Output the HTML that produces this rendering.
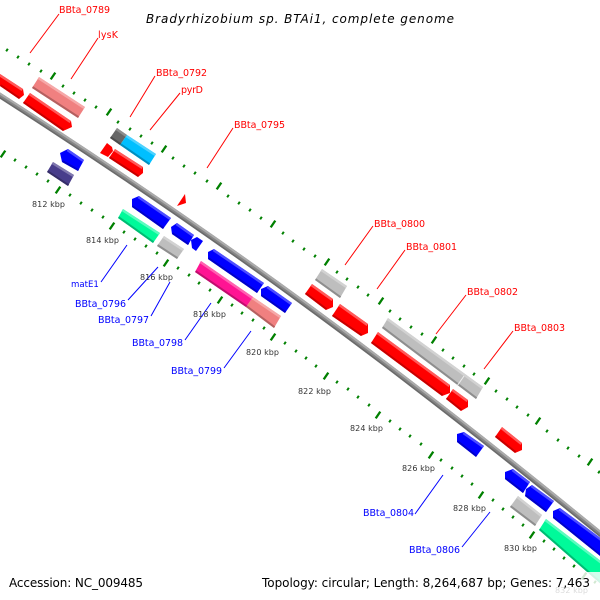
<!DOCTYPE html>
<html><head><meta charset="utf-8"><style>
html,body{margin:0;padding:0;background:#fff}
svg{display:block}
text{font-family:"DejaVu Sans","Liberation Sans",sans-serif}
.r{fill:#f00;font-size:9.5px}
.b{fill:#00f;font-size:9.5px}
.k{fill:#333;font-size:8px}
.m{fill:#000;font-size:12px}
</style></head><body>
<svg width="600" height="600" viewBox="0 0 600 600" xmlns="http://www.w3.org/2000/svg">
<rect width="600" height="600" fill="#fff"/>
<!-- backbone -->
<g fill="none">
<path d="M-15,86 C90,153 195,223.8 300,300.5 C405,377.2 510,459.9 615,546" stroke="#858585" stroke-width="5.5"/>
<path transform="translate(.95,-1.35)" d="M-15,86 C90,153 195,223.8 300,300.5 C405,377.2 510,459.9 615,546" stroke="#ababab" stroke-width="2"/>
<path transform="translate(-1.1,1.5)" d="M-15,86 C90,153 195,223.8 300,300.5 C405,377.2 510,459.9 615,546" stroke="#6a6a6a" stroke-width="1.4"/>
</g>
<!-- ticks -->
<path fill="none" stroke="#008000" stroke-width="2" stroke-linecap="square" d="M-4.3,43.5l.6-.9M6.7,50.5l.6-.9M17.7,57.5l.6-.9M28.7,64.5l.6-.9M40.7,71.5l.6-.9M62.7,86.5l.6-.9M73.7,93.5l.6-.9M84.7,100.5l.6-.9M95.7,107.5l.6-.9M117.7,122.5l.6-.9M129.7,129.5l.6-.9M140.7,136.5l.6-.9M151.7,143.5l.6-.9M172.7,158.5l.6-.9M183.7,166.5l.6-.9M194.7,173.5l.6-.9M206.7,181.5l.6-.9M227.7,196.5l.6-.9M238.7,203.5l.6-.9M249.7,210.5l.6-.9M260.7,218.5l.6-.9M282.7,233.5l.6-.9M292.7,241.5l.6-.9M303.7,249.5l.6-.9M314.7,256.5l.6-.9M336.7,272.5l.6-.9M346.7,279.5l.6-.9M357.7,287.5l.6-.9M367.7,295.5l.6-.9M389.7,311.5l.6-.9M399.7,319.5l.6-.9M410.7,327.5l.6-.9M421.7,334.5l.6-.9M442.7,350.5l.6-.9M452.7,358.5l.6-.9M463.7,366.5l.6-.9M473.7,374.5l.6-.9M495.7,391.5l.6-.9M506.7,399.5l.6-.9M516.7,407.5l.6-.9M527.7,415.5l.6-.9M546.7,431.5l.6-.9M557.7,440.5l.6-.9M567.7,448.5l.6-.9M578.7,456.5l.6-.9M598.7,472.5l.6-.9
M14.7,160.5l.6-.9M25.7,167.5l.6-.9M36.7,174.5l.6-.9M47.7,181.5l.6-.9M69.7,195.5l.6-.9M80.7,203.5l.6-.9M91.7,210.5l.6-.9M102.7,217.5l.6-.9M123.7,232.5l.6-.9M134.7,239.5l.6-.9M145.7,246.5l.6-.9M156.7,253.5l.6-.9M177.7,268.5l.6-.9M188.7,275.5l.6-.9M198.7,283.5l.6-.9M209.7,290.5l.6-.9M231.7,305.5l.6-.9M241.7,313.5l.6-.9M252.7,320.5l.6-.9M263.7,328.5l.6-.9M284.7,343.5l.6-.9M295.7,351.5l.6-.9M305.7,358.5l.6-.9M315.7,366.5l.6-.9M336.7,382.5l.6-.9M347.7,389.5l.6-.9M357.7,397.5l.6-.9M368.7,405.5l.6-.9M389.7,421.5l.6-.9M399.7,429.5l.6-.9M409.7,436.5l.6-.9M420.7,444.5l.6-.9M440.7,460.5l.6-.9M451.7,468.5l.6-.9M461.7,476.5l.6-.9M471.7,484.5l.6-.9M492.7,500.5l.6-.9M502.7,509.5l.6-.9M512.7,517.5l.6-.9M522.7,525.5l.6-.9M543.7,541.5l.6-.9M553.7,549.5l.6-.9M563.7,558.5l.6-.9M573.7,566.5l.6-.9M594.7,582.5l.6-.9"/>
<path fill="none" stroke="#008000" stroke-width="2.3" d="M50.7,79.4l4.6-6.8M106.7,115.4l4.6-6.8M161.7,152.4l4.6-6.8M216.7,189.4l4.6-6.8M270.7,227.4l4.6-6.8M324.7,265.4l4.6-6.8M378.7,304.4l4.6-6.8M431.7,343.4l4.6-6.8M484.7,384.4l4.6-6.8M535.7,424.4l4.6-6.8M587.7,465.4l4.6-6.8
M.7,157.4l4.6-6.8M55.7,193.4l4.6-6.8M109.7,229.4l4.6-6.8M163.7,266.4l4.6-6.8M217.7,303.4l4.6-6.8M270.7,340.4l4.6-6.8M323.7,379.4l4.6-6.8M375.7,418.4l4.6-6.8M428.7,458.4l4.6-6.8M478.7,498.4l4.6-6.8M529.7,538.4l4.6-6.8M581.7,579.4l4.6-6.8"/>
<!-- genes: bodies -->
<g fill="#f00">
<polygon points="0,74 23,89 24,95 19,99 0,86"/>
<polygon points="30,93 71,121 72,127 63,131 23,103"/>
<polygon points="107,143 112,147 113,151 108,157 100,153"/>
<polygon points="115,149 143,167 143,173 138,177 109,158"/>
<polygon points="185,194 186,203 177,206"/>
<polygon points="312,284 333,299 333,307 326,310 305,294"/>
<polygon points="340,304 368,324 368,333 361,336 332,316"/>
<polygon points="378,332 450,385 450,393 442,396 371,343"/>
<polygon points="453,389 468,400 468,407 461,411 446,399"/>
<polygon points="502,427 522,443 522,450 515,453 495,437"/>
</g>
<g fill="#00f">
<polygon points="60,153 68,149 84,160 78,171 62,162"/>
<polygon points="132,199 139,196 171,218 163,229 132,207"/>
<polygon points="171,227 177,223 194,235 188,245 172,234"/>
<polygon points="191,240 197,237 203,241 196,251 192,248"/>
<polygon points="208,252 214,249 264,283 257,293 208,259"/>
<polygon points="261,289 268,286 292,303 285,313 261,296"/>
<polygon points="457,434 464,432 484,446 476,457 457,442"/>
<polygon points="505,472 513,469 530,482 523,493 505,479"/>
<polygon points="526,489 532,485 554,501 546,512 525,496"/>
<polygon points="553,511 560,508 610,545 610,564 553,518"/>
</g>
<polygon fill="#f08080" points="39,77 85,107 78,118 32,88"/>
<polygon fill="#f08080" points="253,297 281,316 274,328 246,307"/>
<polygon fill="#666" points="117,128 127,135 120,145 110,138"/>
<polygon fill="#00bfff" points="127,135 156,154 149,165 120,145"/>
<polygon fill="#483d8b" points="53,162 74,175 68,186 47,172"/>
<polygon fill="#00fa9a" points="123,209 160,233 153,243 118,218"/>
<polygon fill="#00fa9a" points="546,519 610,568 610,592 539,530"/>
<polygon fill="#ff1493" points="201,261 253,297 246,307 195,272"/>
<g fill="#bebebe">
<polygon points="164,236 184,249 177,259 157,246"/>
<polygon points="322,269 347,286 340,298 315,280"/>
<polygon points="388,318 483,387 476,399 382,328"/>
<polygon points="518,496 542,515 535,526 510,507"/>
</g>
<!-- light bands -->
<g fill="none" stroke-width="2.4" transform="translate(-.7,1)">
<g stroke="#ff5a5a">
<polyline points="0,74 23,89"/><polyline points="30,93 71,121"/><polyline points="115,149 143,167"/><polyline points="312,284 333,299"/><polyline points="340,304 368,324"/><polyline points="378,332 450,385"/><polyline points="453,389 468,400"/><polyline points="502,427 522,443"/>
</g>
<g stroke="#4d4dff">
<polyline points="68,149 84,160"/><polyline points="139,196 171,218"/><polyline points="177,223 194,235"/><polyline points="214,249 264,283"/><polyline points="268,286 292,303"/><polyline points="464,432 484,446"/><polyline points="513,469 530,482"/><polyline points="532,485 554,501"/><polyline points="560,508 610,545"/>
</g>
<polyline stroke="#f6a8a8" points="39,77 85,107"/><polyline stroke="#f6a8a8" points="253,297 281,316"/>
<polyline stroke="#8c8c8c" points="117,128 127,135"/><polyline stroke="#4dd2ff" points="127,135 156,154"/>
<polyline stroke="#7f77ae" points="53,162 74,175"/>
<polyline stroke="#5dfbbf" points="123,209 160,233"/><polyline stroke="#5dfbbf" points="546,519 610,568"/>
<polyline stroke="#ff62b0" points="201,261 253,297"/>
<g stroke="#d2d2d2"><polyline points="164,236 184,249"/><polyline points="322,269 347,286"/><polyline points="388,318 483,387"/><polyline points="518,496 542,515"/></g>
</g>
<!-- dark bands -->
<g fill="none" stroke-width="2" transform="translate(.55,-.85)">
<g stroke="#c80000">
<polyline points="0,86 19,99"/><polyline points="23,103 63,131"/><polyline points="109,158 138,177"/><polyline points="305,294 326,310"/><polyline points="332,316 361,336"/><polyline points="371,343 442,396"/><polyline points="446,399 461,411"/><polyline points="495,437 515,453"/>
</g>
<g stroke="#0000c8">
<polyline points="62,162 78,171"/><polyline points="132,207 163,229"/><polyline points="172,234 188,245"/><polyline points="208,259 257,293"/><polyline points="261,296 285,313"/><polyline points="457,442 476,457"/><polyline points="505,479 523,493"/><polyline points="525,496 546,512"/><polyline points="553,518 610,564"/>
</g>
<polyline stroke="#b46060" points="32,88 78,118"/><polyline stroke="#b46060" points="246,307 274,328"/>
<polyline stroke="#4c4c4c" points="110,138 120,145"/><polyline stroke="#008fbf" points="120,145 149,165"/>
<polyline stroke="#362e68" points="47,172 68,186"/>
<polyline stroke="#00bb73" points="118,218 153,243"/><polyline stroke="#00bb73" points="539,530 610,592"/>
<polyline stroke="#bf0f6e" points="195,272 246,307"/>
<g stroke="#8e8e8e"><polyline points="157,246 177,259"/><polyline points="315,280 340,298"/><polyline points="382,328 476,399"/><polyline points="510,507 535,526"/></g>
</g>
<line x1="464" y1="376" x2="457" y2="386" stroke="#eee" stroke-width="1"/>
<!-- connectors -->
<g stroke="#f00" stroke-width="1" fill="none">
<path d="M30,53L59,14M71,79L98,38M130,117L155,76M150,130L180,93M207,168L233,128M345,265L373,226M377,289L405,250M436,334L466,295M484,369L513,331"/>
</g>
<g stroke="#00f" stroke-width="1" fill="none">
<path d="M101,282L127,245M128,300L158,267M151,316L170,282M185,340L211,303M224,368L251,331M415,514L443,475M462,547L490,512"/>
</g>
<!-- labels -->
<text class="r" x="59" y="13" textLength="51">BBta_0789</text>
<text class="r" x="98" y="38" textLength="20">lysK</text>
<text class="r" x="156" y="76" textLength="51">BBta_0792</text>
<text class="r" x="181" y="93" textLength="22">pyrD</text>
<text class="r" x="234" y="128" textLength="51">BBta_0795</text>
<text class="r" x="374" y="227" textLength="51">BBta_0800</text>
<text class="r" x="406" y="250" textLength="51">BBta_0801</text>
<text class="r" x="467" y="295" textLength="51">BBta_0802</text>
<text class="r" x="514" y="331" textLength="51">BBta_0803</text>
<text class="b" x="71" y="287" style="font-size:8.6px">matE1</text>
<text class="b" x="75" y="307" textLength="51">BBta_0796</text>
<text class="b" x="98" y="323" textLength="51">BBta_0797</text>
<text class="b" x="132" y="346" textLength="51">BBta_0798</text>
<text class="b" x="171" y="374" textLength="51">BBta_0799</text>
<text class="b" x="363" y="516" textLength="51">BBta_0804</text>
<text class="b" x="409" y="553" textLength="51">BBta_0806</text>
<text class="k" x="32" y="207" textLength="33">812 kbp</text>
<text class="k" x="86" y="243" textLength="33">814 kbp</text>
<text class="k" x="140" y="280" textLength="33">816 kbp</text>
<text class="k" x="193" y="317" textLength="33">818 kbp</text>
<text class="k" x="246" y="355" textLength="33">820 kbp</text>
<text class="k" x="298" y="394" textLength="33">822 kbp</text>
<text class="k" x="350" y="431" textLength="33">824 kbp</text>
<text class="k" x="402" y="471" textLength="33">826 kbp</text>
<text class="k" x="453" y="511" textLength="33">828 kbp</text>
<text class="k" x="504" y="551" textLength="33">830 kbp</text>
<text class="k" x="555" y="593" textLength="33">832 kbp</text>
<!-- legend overlays -->
<rect x="0" y="572" width="600" height="28" fill="#fff" fill-opacity=".82"/>
<text class="m" x="146" y="23" textLength="308" style="font-style:italic">Bradyrhizobium sp. BTAi1, complete genome</text>
<text class="m" x="9" y="587" textLength="134">Accession: NC_009485</text>
<text class="m" x="262" y="587" textLength="328">Topology: circular; Length: 8,264,687 bp; Genes: 7,463</text>
</svg>
</body></html>
